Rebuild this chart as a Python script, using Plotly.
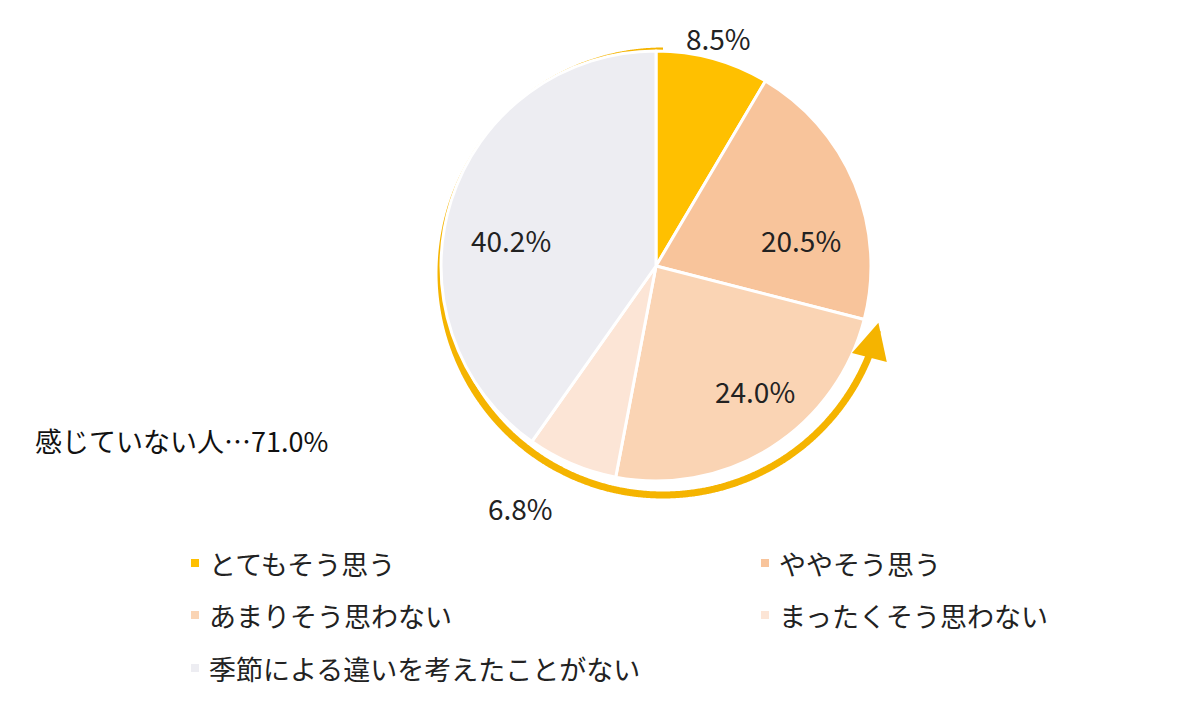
import numpy as np
import plotly.graph_objects as go

labels = ['とてもそう思う', 'ややそう思う', 'あまりそう思わない', 'まったくそう思わない', '季節による違いを考えたことがない']
values = [8.5, 20.5, 24.0, 6.8, 40.2]
colors = ['#FFC000', '#F8C49B', '#FAD4B4', '#FCE5D6', '#EDEDF2']
pct_text = ['8.5%', '20.5%', '24.0%', '6.8%', '40.2%']
pct_pos = [(710, 30), (793, 232), (747, 383), (512, 500), (503, 232)]
legend_pos = [(185, 555), (755, 555), (185, 607), (755, 607), (185, 660)]

W, H = 1200, 708
cx, cy, r = 655, 265, 215
sx, sy = 7, 7  # plotly draws the pie slightly off its domain centre

fig = go.Figure()
fig.add_trace(go.Pie(
    labels=labels, values=values, sort=False, direction='clockwise', rotation=0,
    marker=dict(colors=colors, line=dict(color='white', width=3)),
    textinfo='none', hoverinfo='label+percent', showlegend=False,
    domain=dict(x=[(cx - sx - r) / W, (cx - sx + r) / W],
                y=[1 - (cy - sy + r) / H, 1 - (cy - sy - r) / H]),
))

# orange arc around "not felt" part
ang = np.radians(np.linspace(0, -255, 600))
ra = 222
fig.add_trace(go.Scatter(x=cx + ra * np.sin(ang), y=cy - ra * np.cos(ang), mode='lines',
                         line=dict(color='#F5B400', width=7, shape='spline'),
                         hoverinfo='skip', showlegend=False))
fig.add_annotation(x=cx + ra * np.sin(np.radians(104)), y=cy - ra * np.cos(np.radians(104)) - 4,
                   ax=cx + ra * np.sin(np.radians(110)), ay=cy - ra * np.cos(np.radians(110)),
                   xref='x', yref='y', axref='x', ayref='y', text='', showarrow=True,
                   arrowhead=2, arrowsize=1.2, arrowwidth=6, arrowcolor='#F5B400')

font = dict(family='Noto Sans CJK JP', size=28, color='#222')
for t, (x, y) in zip(pct_text, pct_pos):
    fig.add_annotation(x=x, y=y, text=t, showarrow=False, xref='x', yref='y', font=font)
fig.add_annotation(x=25, y=432, text='感じていない人…71.0%', showarrow=False, xanchor='left',
                   xref='x', yref='y', font=dict(family='Noto Sans CJK JP', size=27, color='#111'))

for lab, c, (x, y) in zip(labels, colors, legend_pos):
    fig.add_shape(type='rect', x0=x - 2, x1=x + 6, y0=y - 4, y1=y + 4, xref='x', yref='y',
                  fillcolor=c, line=dict(width=0))
    fig.add_annotation(x=x + 14, y=y, text=lab, showarrow=False, xanchor='left', xref='x', yref='y',
                       font=dict(family='Noto Sans CJK JP', size=27, color='#222'))

fig.update_layout(width=W, height=H, margin=dict(l=0, r=0, t=0, b=0),
                  paper_bgcolor='white', plot_bgcolor='rgba(0,0,0,0)',
                  xaxis=dict(range=[0, W], visible=False, fixedrange=True),
                  yaxis=dict(range=[H, 0], visible=False, fixedrange=True))
fig.write_html('out.html')
